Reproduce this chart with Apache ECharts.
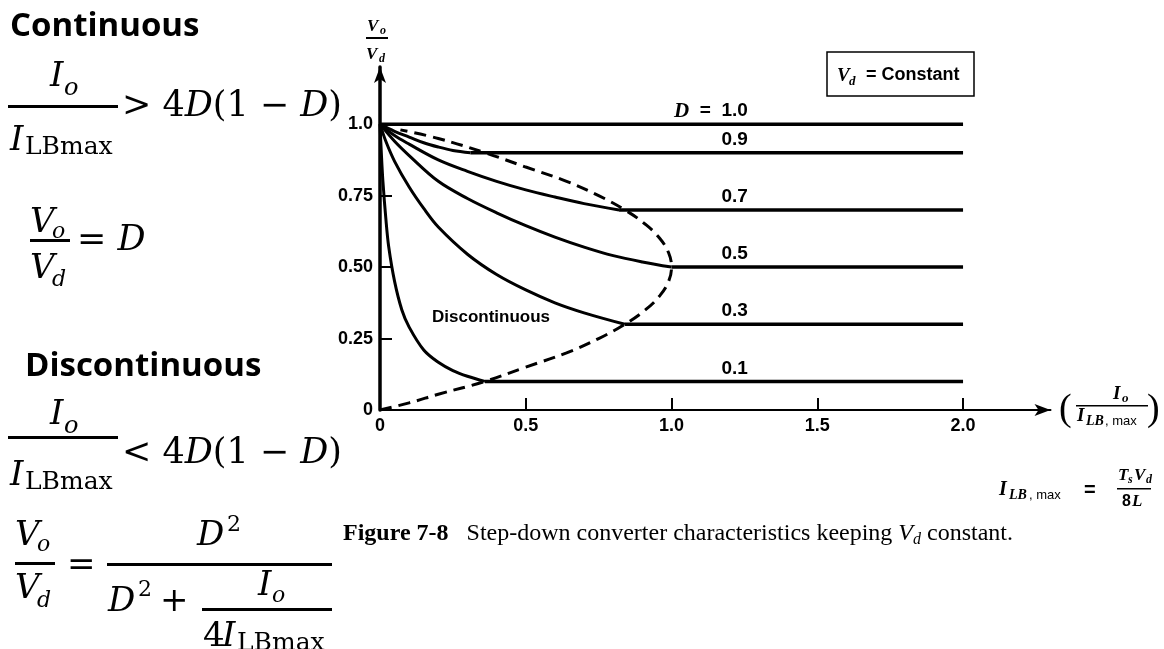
<!DOCTYPE html>
<html>
<head>
<meta charset="utf-8">
<script src="https://cdn.jsdelivr.net/npm/echarts@6/dist/echarts.min.js"></script>
<style>
  html, body { margin: 0; padding: 0; background: #fff; }
  #chart { width: 1164px; height: 649px; }
</style>
</head>
<body>
<div id="chart"></div>
<script>
// axis ticks
const xTickValues = [0, 0.5, 1.0, 1.5, 2.0];
const xTickLabels = ['0', '0.5', '1.0', '1.5', '2.0'];
const yTickValues = [0, 0.25, 0.5, 0.75, 1.0];
const yTickLabels = ['0', '0.25', '0.50', '0.75', '1.0'];

// duty ratios and their line labels
const dutyRatios = [1.0, 0.9, 0.7, 0.5, 0.3, 0.1];
const dutyNames = ['D = 1.0', '0.9', '0.7', '0.5', '0.3', '0.1'];

// where each flat (continuous) line starts, and where they all stop
const flatStart = [0, 0.31, 0.82, 1.0, 0.84, 0.36];
const flatEnd = 2.0;

// discontinuous-mode curves: [Io/ILBmax, Vo/Vd]
const curveD09 = [[0, 1], [0.05, 0.975], [0.1, 0.955], [0.15, 0.935], [0.2, 0.92], [0.25, 0.908], [0.31, 0.9]];
const curveD07 = [[0, 1], [0.05, 0.96], [0.1, 0.93], [0.2, 0.875], [0.3, 0.835], [0.4, 0.8], [0.5, 0.77], [0.6, 0.745], [0.7, 0.722], [0.82, 0.7]];
const curveD05 = [[0, 1], [0.05, 0.94], [0.1, 0.89], [0.2, 0.8], [0.3, 0.74], [0.4, 0.69], [0.5, 0.645], [0.6, 0.605], [0.7, 0.57], [0.8, 0.54], [0.9, 0.518], [1.0, 0.5]];
const curveD03 = [[0, 1], [0.02, 0.94], [0.05, 0.87], [0.1, 0.78], [0.15, 0.705], [0.2, 0.64], [0.3, 0.545], [0.4, 0.474], [0.5, 0.42], [0.6, 0.375], [0.7, 0.34], [0.84, 0.3]];
const curveD01 = [[0, 1], [0.005, 0.89], [0.01, 0.8], [0.02, 0.67], [0.03, 0.57], [0.05, 0.45], [0.075, 0.35], [0.1, 0.29], [0.15, 0.21], [0.2, 0.167], [0.25, 0.138], [0.3, 0.118], [0.36, 0.1]];

// dashed boundary between continuous and discontinuous
const boundary = [[0, 0], [0.1, 0.025], [0.2, 0.055], [0.36, 0.1], [0.5, 0.15], [0.64, 0.2], [0.75, 0.25], [0.84, 0.3], [0.91, 0.35], [0.96, 0.4], [0.99, 0.45], [1.0, 0.5], [0.99, 0.55], [0.96, 0.6], [0.91, 0.65], [0.84, 0.7], [0.75, 0.75], [0.64, 0.8], [0.5, 0.85], [0.36, 0.9], [0.2, 0.95], [0.07, 0.98]];

const chart = echarts.init(document.getElementById('chart'));

const curves = [null, curveD09, curveD07, curveD05, curveD03, curveD01];
const series = [];
dutyRatios.forEach((d, i) => {
    if (curves[i]) {
        series.push({ type: 'line', data: curves[i], smooth: 0.35, symbol: 'none', lineStyle: { color: '#000', width: 3 } });
    }
    series.push({ type: 'line', data: [[flatStart[i], d], [flatEnd, d]], symbol: 'none', lineStyle: { color: '#000', width: 3.5 } });
});
series.push({ type: 'line', data: boundary, smooth: 0.4, symbol: 'none', lineStyle: { color: '#000', width: 3, type: [12, 7] } });
series.push({
    type: 'scatter',
    symbolSize: 0,
    itemStyle: { color: '#000', opacity: 1 },
    data: dutyRatios.map((d, i) => ({ name: dutyNames[i], value: [1.262, d] })),
    label: {
        show: true, position: 'left', distance: 0, offset: [0, -13], opacity: 1,
        color: '#000', fontFamily: 'Liberation Sans', fontWeight: 'bold', fontSize: 19,
        formatter: p => p.name === 'D = 1.0' ? '{i|D}  =  1.0' : p.name,
        rich: { i: { fontFamily: 'Liberation Serif', fontStyle: 'italic', fontWeight: 'bold', fontSize: 21, color: '#000' } }
    }
});

// text helpers
function tx(x, base, text, size, family, fs) {
    return {
        type: 'text', x: x, y: base - 0.32 * size, silent: true,
        style: { text: text, font: (fs ? fs + ' ' : '') + size + 'px ' + family, fill: '#000', verticalAlign: 'middle' }
    };
}
function bar(x, y, w, h) {
    return { type: 'rect', silent: true, shape: { x: x, y: y, width: w, height: h }, style: { fill: '#000' } };
}
const M = '"DejaVu Serif"';
const SANS = '"Open Sans"';
const TS = '"Liberation Serif"';
const HB = '"Liberation Sans"';

const mathRich = {
    r: { fontFamily: 'DejaVu Serif', fontSize: 35 },
    i: { fontFamily: 'DejaVu Serif', fontStyle: 'italic', fontSize: 35 }
};
function mrich(x, base, text) {
    return { type: 'text', x: x, y: base - 0.32 * 35, silent: true, style: { text: text, rich: mathRich, fill: '#000', verticalAlign: 'middle' } };
}

const graphics = [
    // continuous
    tx(10, 37, 'Continuous', 33, SANS, 'bold'),
    tx(50, 88, 'I', 34, M, 'italic'), tx(64, 96, 'o', 24, M, 'italic'),
    bar(8, 105, 110, 3),
    tx(10, 152, 'I', 34, M, 'italic'), tx(25, 155, 'LBmax', 25, M),
    mrich(122, 118, '{r|> 4}{i|D}{r|(1 − }{i|D}{r|)}'),
    tx(30, 234, 'V', 34, M, 'italic'), tx(52, 239, 'o', 22, M, 'italic'),
    bar(30, 239, 40, 3),
    tx(30, 280, 'V', 34, M, 'italic'), tx(52, 287, 'd', 22, M, 'italic'),
    mrich(77, 252, '{r|= }{i|D}'),
    // discontinuous
    tx(25, 377, 'Discontinuous', 33, SANS, 'bold'),
    tx(50, 426, 'I', 34, M, 'italic'), tx(64, 434, 'o', 24, M, 'italic'),
    bar(8, 436, 110, 3),
    tx(10, 487, 'I', 34, M, 'italic'), tx(25, 490, 'LBmax', 25, M),
    mrich(122, 465, '{r|< 4}{i|D}{r|(1 − }{i|D}{r|)}'),
    tx(15, 547, 'V', 34, M, 'italic'), tx(37, 552, 'o', 22, M, 'italic'),
    bar(15, 562, 40, 3),
    tx(15, 600, 'V', 34, M, 'italic'), tx(37, 608, 'd', 22, M, 'italic'),
    tx(67, 577, '=', 34, M),
    tx(197, 547, 'D', 34, M, 'italic'), tx(227, 532, '2', 22, M),
    bar(107, 563, 225, 3),
    tx(108, 613, 'D', 34, M, 'italic'), tx(138, 597, '2', 22, M),
    tx(160, 613, '+', 34, M),
    tx(258, 597, 'I', 34, M, 'italic'), tx(272, 603, 'o', 22, M, 'italic'),
    bar(202, 608, 130, 3),
    tx(203, 648, '4', 34, M), tx(222, 648, 'I', 34, M, 'italic'), tx(237, 651, 'LBmax', 25, M),

    // y axis name
    tx(367, 32, 'V', 17, TS, 'italic bold'), tx(380, 35, 'o', 12, TS, 'italic bold'),
    bar(366, 37, 22, 2),
    tx(366, 60, 'V', 17, TS, 'italic bold'), tx(379, 63, 'd', 12, TS, 'italic bold'),
    // x axis name
    tx(1059, 422, '(', 38, TS), tx(1147, 422, ')', 38, TS),
    tx(1113, 400, 'I', 19, TS, 'italic bold'), tx(1122, 403, 'o', 13, TS, 'italic bold'),
    bar(1076, 405, 72, 1.5),
    tx(1077, 422, 'I', 19, TS, 'italic bold'), tx(1086, 426, 'LB', 14, TS, 'italic bold'), tx(1105, 426, ', max', 13, HB),
    // ILB,max definition
    tx(999, 496, 'I', 20, TS, 'italic bold'), tx(1009, 500, 'LB', 14, TS, 'italic bold'), tx(1029, 500, ', max', 13, HB),
    tx(1084, 497, '=', 20, HB, 'bold'),
    tx(1118, 481, 'T', 17, TS, 'italic bold'), tx(1128, 484, 's', 12, TS, 'italic bold'),
    tx(1134, 481, 'V', 17, TS, 'italic bold'), tx(1146, 484, 'd', 12, TS, 'italic bold'),
    bar(1117, 488, 34, 1.5),
    tx(1122, 507, '8', 16, HB, 'bold'), tx(1132, 507, 'L', 17, TS, 'italic bold'),
    // V_d = Constant box
    { type: 'rect', silent: true, shape: { x: 827, y: 52, width: 147, height: 44 }, style: { fill: 'none', stroke: '#000', lineWidth: 1.5 } },
    tx(837, 82, 'V', 19, TS, 'italic bold'), tx(849, 86, 'd', 13, TS, 'italic bold'),
    tx(866, 81, '= Constant', 18, HB, 'bold'),
    // region label
    tx(432, 323, 'Discontinuous', 17, HB, 'bold'),
    // caption
    {
        type: 'text', x: 343, y: 542 - 8, silent: true,
        style: {
            text: '{b|Figure 7-8}{r|   Step-down converter characteristics keeping }{i|V}{s|d}{r| constant.}',
            fill: '#000', verticalAlign: 'middle',
            rich: {
                b: { fontFamily: 'Liberation Serif', fontWeight: 'bold', fontSize: 24, lineHeight: 28, verticalAlign: 'middle' },
                r: { fontFamily: 'Liberation Serif', fontSize: 24, lineHeight: 28, verticalAlign: 'middle' },
                i: { fontFamily: 'Liberation Serif', fontStyle: 'italic', fontSize: 24, lineHeight: 28, verticalAlign: 'middle' },
                s: { fontFamily: 'Liberation Serif', fontStyle: 'italic', fontSize: 16, lineHeight: 17, verticalAlign: 'bottom' }
            }
        }
    }
];

chart.setOption({
    animation: false,
    grid: { left: 380, right: 113.5, top: 67, bottom: 239 },
    xAxis: {
        type: 'value', min: 0, max: 2.3, interval: 0.5,
        axisLine: { show: true, symbol: ['none', 'arrow'], symbolSize: [9, 16], lineStyle: { color: '#000', width: 2 } },
        axisTick: { show: true, inside: true, length: 12, customValues: [0.5, 1.0, 1.5, 2.0], lineStyle: { color: '#000', width: 2 } },
        axisLabel: {
            customValues: xTickValues, formatter: v => xTickLabels[xTickValues.indexOf(v)],
            color: '#000', fontFamily: 'Liberation Sans', fontWeight: 'bold', fontSize: 18, margin: 7
        },
        splitLine: { show: false }
    },
    yAxis: {
        type: 'value', min: 0, max: 1.2, interval: 0.25,
        axisLine: { show: true, symbol: ['none', 'arrow'], symbolSize: [9, 16], lineStyle: { color: '#000', width: 3.5 } },
        axisTick: { show: true, inside: true, length: 12, customValues: [0.25, 0.5, 0.75], lineStyle: { color: '#000', width: 2 } },
        axisLabel: {
            customValues: yTickValues, formatter: v => yTickLabels[yTickValues.indexOf(v)],
            color: '#000', fontFamily: 'Liberation Sans', fontWeight: 'bold', fontSize: 18, margin: 7
        },
        splitLine: { show: false }
    },
    series: series,
    graphic: graphics
});
</script>
</body>
</html>
